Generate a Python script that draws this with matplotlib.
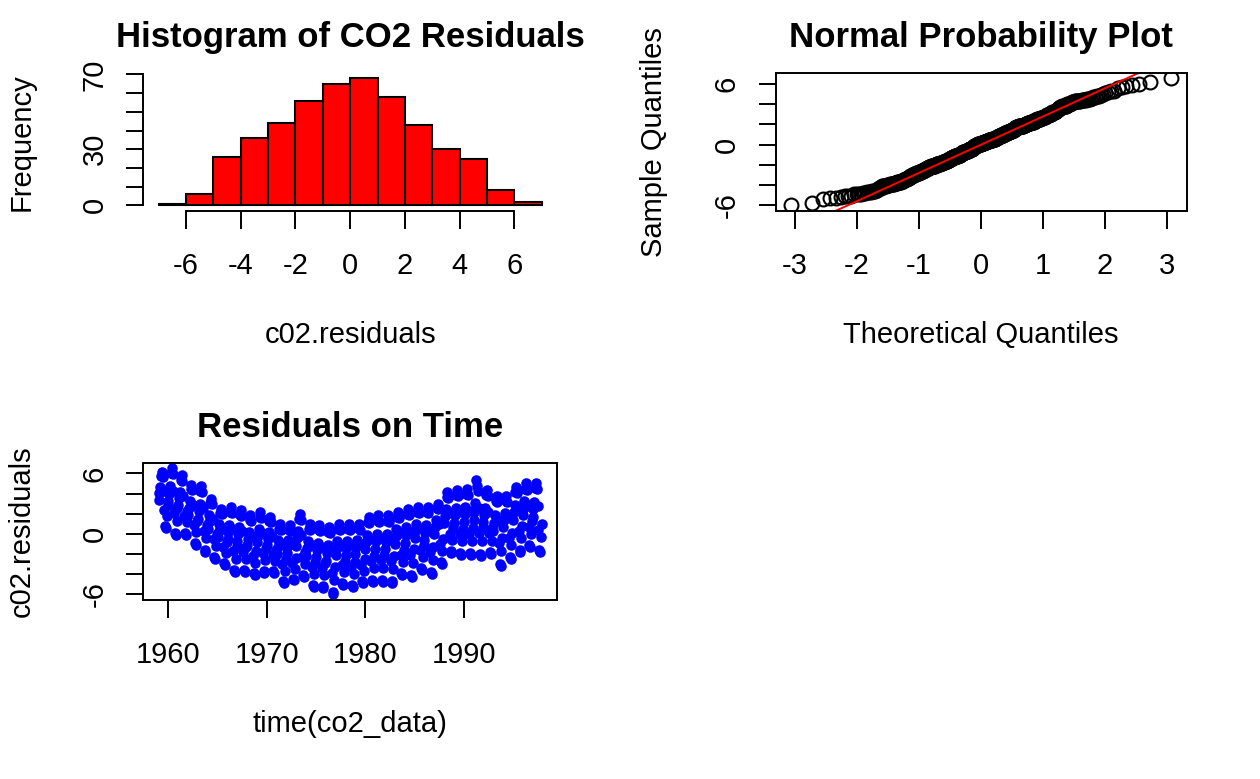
import matplotlib
matplotlib.use("Agg")
import matplotlib.pyplot as plt
import numpy as np
from statistics import NormalDist

plt.rcParams['font.family'] = ['Liberation Sans', 'DejaVu Sans']
plt.rcParams['axes.unicode_minus'] = False

# histogram of the residuals: bins of width 1 starting at -7
bin_left = [-7, -6, -5, -4, -3, -2, -1, 0, 1, 2, 3, 4, 5, 6]
bin_count = [1, 6, 26, 36, 44, 56, 65, 68, 58, 43, 30, 25, 8, 2]

# monthly residuals (Jan..Dec), one row per year
years = list(range(1959, 1998))
resid = [
    [3.38, 4.01, 4.63, 5.71, 6.15, 5.62, 4.28, 2.40, 0.78, 0.61, 1.77, 2.84],
    [3.23, 3.98, 4.73, 6.02, 6.56, 5.91, 4.30, 2.05, 0.12, -0.10, 1.30, 2.59],
    [2.85, 3.52, 4.18, 5.33, 5.80, 5.23, 3.80, 1.80, 0.09, -0.10, 1.14, 2.28],
    [1.90, 2.58, 3.26, 4.42, 4.90, 4.32, 2.87, 0.84, -0.91, -1.10, 0.16, 1.32],
    [1.50, 2.25, 2.99, 4.27, 4.80, 4.16, 2.57, 0.33, -1.59, -1.80, -0.42, 0.86],
    [0.53, 1.20, 1.87, 3.03, 3.51, 2.93, 1.49, -0.53, -2.25, -2.45, -1.20, -0.05],
    [-0.30, 0.33, 0.96, 2.04, 2.49, 1.95, 0.60, -1.29, -2.91, -3.09, -1.92, -0.84],
    [-0.55, 0.19, 0.92, 2.18, 2.71, 2.08, 0.50, -1.71, -3.60, -3.81, -2.44, -1.18],
    [-0.73, -0.04, 0.66, 1.84, 2.34, 1.75, 0.26, -1.82, -3.60, -3.80, -2.51, -1.32],
    [-1.13, -0.46, 0.21, 1.37, 1.85, 1.27, -0.17, -2.19, -3.91, -4.11, -2.86, -1.71],
    [-0.85, -0.16, 0.52, 1.70, 2.19, 1.60, 0.13, -1.93, -3.69, -3.89, -2.61, -1.44],
    [-1.10, -0.47, 0.16, 1.24, 1.69, 1.15, -0.20, -2.09, -3.71, -3.89, -2.72, -1.64],
    [-1.95, -1.28, -0.62, 0.52, 1.00, 0.43, -1.00, -3.00, -4.71, -4.90, -3.66, -2.52],
    [-1.88, -1.26, -0.65, 0.41, 0.85, 0.32, -1.00, -2.85, -4.43, -4.61, -3.46, -2.41],
    [-1.15, -0.44, 0.28, 1.50, 2.01, 1.40, -0.13, -2.27, -4.11, -4.31, -2.99, -1.76],
    [-2.15, -1.44, -0.72, 0.50, 1.01, 0.40, -1.13, -3.27, -5.11, -5.31, -3.99, -2.76],
    [-2.28, -1.57, -0.87, 0.35, 0.85, 0.25, -1.27, -3.39, -5.21, -5.41, -4.10, -2.89],
    [-2.65, -1.89, -1.14, 0.16, 0.70, 0.05, -1.57, -3.84, -5.78, -6.00, -4.59, -3.30],
    [-2.05, -1.36, -0.68, 0.50, 0.99, 0.40, -1.07, -3.13, -4.89, -5.09, -3.81, -2.64],
    [-2.10, -1.40, -0.75, 0.48, 0.98, 0.42, -1.10, -3.30, -5.05, -5.28, -4.02, -2.80],
    [-1.98, -1.25, -0.60, 0.55, 1.02, 0.40, -0.98, -3.05, -4.68, -4.88, -3.70, -2.49],
    [-1.53, -0.80, -0.07, 1.17, 1.69, 1.07, -0.49, -2.67, -4.55, -4.75, -3.40, -2.15],
    [-1.45, -0.71, 0.03, 1.31, 1.84, 1.20, -0.39, -2.62, -4.52, -4.74, -3.36, -2.09],
    [-1.53, -0.77, 0.00, 1.30, 1.85, 1.20, -0.44, -2.73, -4.69, -4.91, -3.49, -2.18],
    [-0.95, -0.24, 0.48, 1.70, 2.21, 1.60, 0.07, -2.07, -3.91, -4.11, -2.79, -1.56],
    [-0.88, -0.12, 0.65, 1.95, 2.50, 1.85, 0.21, -2.08, -4.04, -4.26, -2.84, -1.53],
    [-0.45, 0.26, 0.98, 2.20, 2.71, 2.10, 0.57, -1.57, -3.41, -3.61, -2.29, -1.06],
    [-0.63, 0.12, 0.87, 2.15, 2.69, 2.05, 0.44, -1.81, -3.73, -3.95, -2.56, -1.27],
    [0.03, 0.70, 1.37, 2.53, 3.01, 2.43, 0.99, -1.03, -2.75, -2.95, -1.70, -0.55],
    [1.13, 1.82, 2.52, 3.70, 4.20, 3.61, 2.12, 0.04, -1.74, -1.94, -0.65, 0.54],
    [1.13, 1.86, 2.59, 3.83, 4.35, 3.73, 2.17, -0.01, -1.89, -2.09, -0.74, 0.51],
    [1.20, 1.94, 2.68, 3.96, 4.49, 3.85, 2.26, 0.03, -1.87, -2.09, -0.71, 0.56],
    [1.40, 2.21, 3.02, 5.30, 4.80, 4.30, 2.56, 0.12, -1.96, -2.20, -0.69, 0.70],
    [1.18, 1.89, 2.61, 3.83, 4.34, 3.73, 2.20, 0.06, -1.78, -1.98, -0.66, 0.57],
    [0.30, 1.09, 1.88, 3.24, 3.80, 3.13, 1.43, -0.94, -2.98, -3.20, -1.73, -0.38],
    [0.68, 1.39, 2.09, 3.31, 3.81, 3.21, 1.69, -0.43, -2.25, -2.45, -1.14, 0.07],
    [1.43, 2.16, 2.89, 4.13, 4.65, 4.03, 2.47, 0.29, -1.59, -1.79, -0.44, 0.81],
    [1.85, 2.56, 3.28, 4.50, 5.01, 4.40, 2.87, 0.73, -1.11, -1.31, 0.01, 1.24],
    [1.65, 2.43, 3.20, 4.54, 5.09, 4.43, 2.76, 0.43, -1.57, -1.79, -0.35, 0.98],
]

W, H = 1260, 779
fig = plt.figure(figsize=(W / 100, H / 100), dpi=100)


def px_axes(left, top, right, bottom):
    return fig.add_axes([left / W, 1 - bottom / H, (right - left) / W, (bottom - top) / H])


def padded(lo, hi):
    # R style 4% range extension
    d = 0.04 * (hi - lo)
    return lo - d, hi + d


def style(ax):
    ax.tick_params(length=12.6, width=1.4, labelsize=21, direction='out')
    ax.tick_params(axis='x', pad=17.0)
    ax.tick_params(axis='y', pad=12.5, labelrotation=90)
    plt.setp(ax.get_yticklabels(), va='center')
    for s in ax.spines.values():
        s.set_linewidth(1.4)


def titles(ax, title, xlabel, ylabel):
    x0, y0, w, h = ax.get_position().bounds
    cx = x0 + w / 2
    top = (1 - y0 - h) * H
    bot = (1 - y0) * H
    fig.text(cx, 1 - (top - 35) / H, title, ha='center', va='center',
             fontsize=25, fontweight='bold')
    fig.text(cx, 1 - (bot + 124.5) / H, xlabel, ha='center', va='center', fontsize=21)
    fig.text((x0 * W - 122) / W, y0 + h / 2, ylabel, ha='center', va='center',
             rotation=90, fontsize=21)


ax_hist = px_axes(143.3, 73, 557, 210.5)
ax_qq = px_axes(775.5, 73, 1186.7, 210.5)
ax_time = px_axes(143.3, 462.7, 557, 599.5)

# histogram
ax_hist.bar(bin_left, bin_count, width=1, align='edge', color='red',
            edgecolor='black', linewidth=1.5)
ax_hist.set_xlim(*padded(bin_left[0], bin_left[-1] + 1))
ax_hist.set_ylim(*padded(0, max(bin_count)))
ax_hist.set_xticks(range(-6, 7, 2))
ax_hist.set_yticks(range(0, 80, 10), ['0', '', '', '30', '', '', '', '70'])
ax_hist.spines['top'].set_visible(False)
ax_hist.spines['right'].set_visible(False)
ax_hist.spines['left'].set_bounds(0, 70)
ax_hist.spines['bottom'].set_bounds(-6, 6)
style(ax_hist)
titles(ax_hist, 'Histogram of CO2 Residuals', 'c02.residuals', 'Frequency')

# normal probability plot
r = np.array(resid).ravel()
n = r.size
nd = NormalDist()
theo = np.array([nd.inv_cdf((i - 0.5) / n) for i in range(1, n + 1)])
samp = np.sort(r)
ax_qq.plot(theo, samp, 'o', mfc='none', mec='black', ms=10, mew=1.5)
q1, q3 = np.percentile(r, [25, 75])
z1, z3 = nd.inv_cdf(0.25), nd.inv_cdf(0.75)
slope = (q3 - q1) / (z3 - z1)
ax_qq.axline((0, q1 - slope * z1), slope=slope, color='red', lw=1.4)
ax_qq.set_xlim(*padded(theo.min(), theo.max()))
ax_qq.set_ylim(*padded(samp.min(), samp.max()))
ax_qq.set_xticks(range(-3, 4))
ax_qq.set_yticks(range(-6, 7, 2), ['-6', '', '', '0', '', '', '6'])
style(ax_qq)
titles(ax_qq, 'Normal Probability Plot', 'Theoretical Quantiles', 'Sample Quantiles')

# residuals against time
t = np.array([y + m / 12 for y in years for m in range(12)])
ax_time.plot(t, r, 'o', color='blue', ms=7.6, mec='none')
ax_time.set_xlim(*padded(t.min(), t.max()))
ax_time.set_ylim(*padded(r.min(), r.max()))
ax_time.set_xticks([1960, 1970, 1980, 1990])
ax_time.set_yticks(range(-6, 7, 2), ['-6', '', '', '0', '', '', '6'])
style(ax_time)
titles(ax_time, 'Residuals on Time', 'time(co2_data)', 'c02.residuals')

fig.savefig('out.png', dpi=100)
